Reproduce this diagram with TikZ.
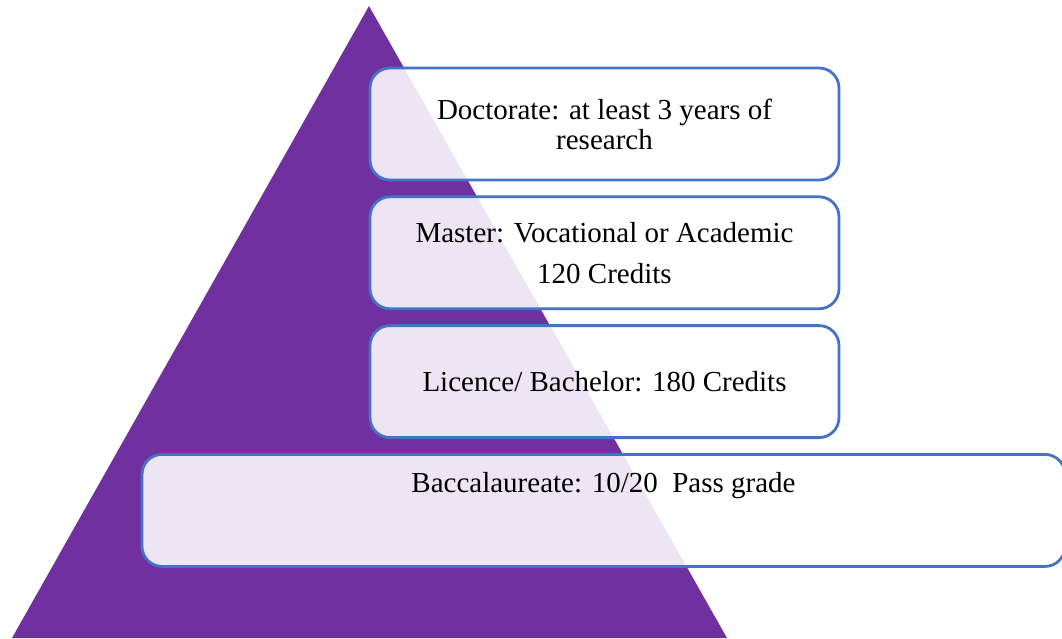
\documentclass[tikz,border=0pt]{standalone}
\usepackage{fontspec}
\setmainfont{Liberation Serif}
\usepackage{tikz}
\usetikzlibrary{positioning}
\definecolor{pyrpurple}{HTML}{7030A0}
\definecolor{tierblue}{HTML}{4472C4}
\tikzset{
	pyramid/.append style={
		fill=pyrpurple,
	},
	tier/.append style={
		draw=tierblue,
		line width=2.8pt,
		rounded corners=20pt,
		fill=white,
		fill opacity=0.88,
		text opacity=1,
		align=center,
		minimum width=469pt,
		minimum height=112pt,
		font={\fontsize{29}{30}\selectfont}
	},
}

\begin{document}
\begin{tikzpicture}[x=1pt, y=-1pt]

\useasboundingbox (0,0) rectangle (1062,638);

\fill[pyramid] (369,6) -- (727,638) -- (12,638) -- cycle;

\node(doc)[tier] at (604.5,124) {Doctorate: at least 3 years of\\research};
\node(mas)[tier, below=14pt of doc] {Master: Vocational or Academic\\[11pt]120 Credits};
\node(lic)[tier, below=14pt of mas] {Licence/ Bachelor: 180 Credits};

\node(bac)[tier, minimum width=923pt, anchor=north west]
	at ([xshift=-228pt, yshift=-14pt]lic.south west) {Baccalaureate: 10/20\ \ Pass grade\\[26pt]~};

\end{tikzpicture}
\end{document}
